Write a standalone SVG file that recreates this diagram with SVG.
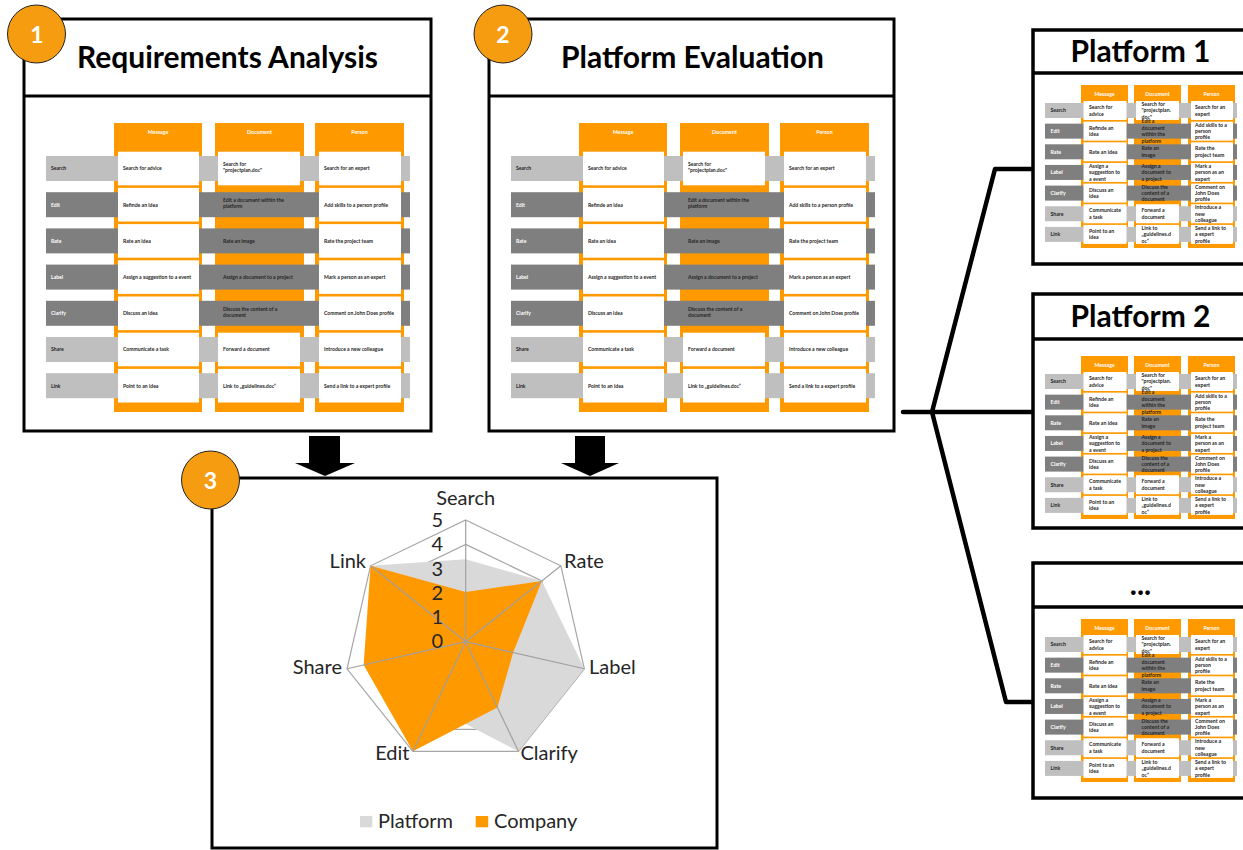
<svg xmlns="http://www.w3.org/2000/svg" xmlns:xlink="http://www.w3.org/1999/xlink" width="1243" height="850" viewBox="0 0 1243 850">
<style>
.box{fill:#fff;stroke:#000;stroke-width:3}
.pbox{fill:#fff;stroke:#000;stroke-width:3.5}
.div{stroke:#000;stroke-width:3}
.pdiv{stroke:#000;stroke-width:3.5}
.title{font-family:Lato,"Liberation Sans",sans-serif;font-weight:bold;font-size:30px;text-anchor:middle;fill:#000}
.badge{fill:#F59C10;stroke:#222;stroke-width:1}
.bnum{font-family:Lato,"Liberation Sans",sans-serif;font-weight:bold;font-size:23px;text-anchor:middle;fill:#fff}
.og{fill:#FF9900}
.lb{fill:#BFBFBF}
.db{fill:#7F7F7F}
.wc{fill:#fff}
.tw{font-family:Lato,"Liberation Sans",sans-serif;font-weight:bold;font-size:5.1px;fill:#262626}
.ts{font-family:Lato,"Liberation Sans",sans-serif;font-weight:bold;font-size:5.2px;fill:#262626}
.wt{fill:#fff}
.hw{font-family:Lato,"Liberation Sans",sans-serif;font-weight:bold;font-size:5.3px;fill:#fff;text-anchor:middle}
.hs{font-family:Lato,"Liberation Sans",sans-serif;font-weight:bold;font-size:5.2px;fill:#fff;text-anchor:middle}
.grid{fill:none;stroke:#A6A6A6;stroke-width:1.2}
.spoke{stroke:#A0A0A0;stroke-width:1.2}
.cl{font-family:Lato,"Liberation Sans",sans-serif;font-size:20px;fill:#262626}
.conn{fill:none;stroke:#000;stroke-width:4.5;stroke-linejoin:round;stroke-linecap:round}
.arrow{fill:#000}
</style>
<defs>
<g id="tblWide">
 <rect class="og" x="114" y="123" width="88" height="289"/>
 <rect class="og" x="215" y="123" width="89" height="289"/>
 <rect class="og" x="315" y="123" width="89" height="289"/>
 <rect class="lb" x="46" y="156" width="364" height="25"/>
 <rect class="db" x="46" y="192.2" width="364" height="25"/>
 <rect class="db" x="46" y="228.4" width="364" height="25"/>
 <rect class="db" x="46" y="264.6" width="364" height="25"/>
 <rect class="db" x="46" y="300.8" width="364" height="25"/>
 <rect class="lb" x="46" y="337" width="364" height="25"/>
 <rect class="lb" x="46" y="373.2" width="364" height="25"/>
 <rect class="wc" x="118" y="151.7" width="81" height="33.6"/>
 <rect class="wc" x="118" y="187.9" width="81" height="33.6"/>
 <rect class="wc" x="118" y="224.1" width="81" height="33.6"/>
 <rect class="wc" x="118" y="260.3" width="81" height="33.6"/>
 <rect class="wc" x="118" y="296.5" width="81" height="33.6"/>
 <rect class="wc" x="118" y="332.7" width="81" height="33.6"/>
 <rect class="wc" x="118" y="368.9" width="81" height="33.6"/>
 <rect class="wc" x="218" y="151.7" width="82" height="33.6"/>
 <rect class="wc" x="218" y="332.7" width="82" height="33.6"/>
 <rect class="wc" x="218" y="368.9" width="82" height="33.6"/>
 <rect class="wc" x="319" y="151.7" width="82" height="33.6"/>
 <rect class="wc" x="319" y="187.9" width="82" height="33.6"/>
 <rect class="wc" x="319" y="224.1" width="82" height="33.6"/>
 <rect class="wc" x="319" y="260.3" width="82" height="33.6"/>
 <rect class="wc" x="319" y="296.5" width="82" height="33.6"/>
 <rect class="wc" x="319" y="332.7" width="82" height="33.6"/>
 <rect class="wc" x="319" y="368.9" width="82" height="33.6"/>
 <text class="hw" x="158" y="134">Message</text>
 <text class="hw" x="259.5" y="134">Document</text>
 <text class="hw" x="359.5" y="134">Person</text>
 <text class="tw" x="51" y="170.3">Search</text>
 <text class="tw wt" x="51" y="206.5">Edit</text>
 <text class="tw wt" x="51" y="242.7">Rate</text>
 <text class="tw wt" x="51" y="278.9">Label</text>
 <text class="tw wt" x="51" y="315.1">Clarify</text>
 <text class="tw" x="51" y="351.3">Share</text>
 <text class="tw" x="51" y="387.5">Link</text>
 <text class="tw" x="123" y="170.3">Search for advice</text>
 <text class="tw" x="123" y="206.5">Refinde an idea</text>
 <text class="tw" x="123" y="242.7">Rate an idea</text>
 <text class="tw" x="123" y="278.9">Assign a suggestion to a event</text>
 <text class="tw" x="123" y="315.1">Discuss an idea</text>
 <text class="tw" x="123" y="351.3">Communicate a task</text>
 <text class="tw" x="123" y="387.5">Point to an idea</text>
 <text class="tw"><tspan x="223" y="166.2">Search for</tspan><tspan x="223" y="172.2">"projectplan.doc"</tspan></text>
 <text class="tw"><tspan x="223" y="202.4">Edit a document within the</tspan><tspan x="223" y="208.4">platform</tspan></text>
 <text class="tw" x="223" y="242.7">Rate an image</text>
 <text class="tw" x="223" y="278.9">Assign a document to a project</text>
 <text class="tw"><tspan x="223" y="311">Discuss the content of a</tspan><tspan x="223" y="317">document</tspan></text>
 <text class="tw" x="223" y="351.3">Forward a document</text>
 <text class="tw" x="223" y="387.5">Link to „guidelines.doc“</text>
 <text class="tw" x="324" y="170.3">Search for an expert</text>
 <text class="tw" x="324" y="206.5">Add skills to a person profile</text>
 <text class="tw" x="324" y="242.7">Rate the project team</text>
 <text class="tw" x="324" y="278.9">Mark a person as an expert</text>
 <text class="tw" x="324" y="315.1">Comment on John Does profile</text>
 <text class="tw" x="324" y="351.3">Introduce a new colleague</text>
 <text class="tw" x="324" y="387.5">Send a link to a expert profile</text>
</g>
<g id="tblSmall">
 <rect class="og" x="1081" y="85" width="47" height="163"/>
 <rect class="og" x="1134" y="85" width="47" height="163"/>
 <rect class="og" x="1188" y="85" width="47" height="163"/>
 <rect class="lb" x="1045" y="103" width="192" height="15"/>
 <rect class="db" x="1045" y="123.65" width="192" height="15"/>
 <rect class="db" x="1045" y="144.3" width="192" height="15"/>
 <rect class="db" x="1045" y="164.95" width="192" height="15"/>
 <rect class="db" x="1045" y="185.6" width="192" height="15"/>
 <rect class="lb" x="1045" y="206.25" width="192" height="15"/>
 <rect class="lb" x="1045" y="226.9" width="192" height="15"/>
 <rect class="wc" x="1083.5" y="101" width="43" height="19"/>
 <rect class="wc" x="1083.5" y="121.65" width="43" height="19"/>
 <rect class="wc" x="1083.5" y="142.3" width="43" height="19"/>
 <rect class="wc" x="1083.5" y="162.95" width="43" height="19"/>
 <rect class="wc" x="1083.5" y="183.6" width="43" height="19"/>
 <rect class="wc" x="1083.5" y="204.25" width="43" height="19"/>
 <rect class="wc" x="1083.5" y="224.9" width="43" height="19"/>
 <rect class="wc" x="1136" y="101" width="43" height="19"/>
 <rect class="wc" x="1136" y="204.25" width="43" height="19"/>
 <rect class="wc" x="1136" y="224.9" width="43" height="19"/>
 <rect class="wc" x="1191" y="101" width="42" height="19"/>
 <rect class="wc" x="1191" y="121.65" width="42" height="19"/>
 <rect class="wc" x="1191" y="142.3" width="42" height="19"/>
 <rect class="wc" x="1191" y="162.95" width="42" height="19"/>
 <rect class="wc" x="1191" y="183.6" width="42" height="19"/>
 <rect class="wc" x="1191" y="204.25" width="42" height="19"/>
 <rect class="wc" x="1191" y="224.9" width="42" height="19"/>
 <text class="hs" x="1104.5" y="96">Message</text>
 <text class="hs" x="1157.5" y="96">Document</text>
 <text class="hs" x="1211.5" y="96">Person</text>
 <text class="ts" x="1050.5" y="112.3">Search</text>
 <text class="ts wt" x="1050.5" y="132.95">Edit</text>
 <text class="ts wt" x="1050.5" y="153.6">Rate</text>
 <text class="ts wt" x="1050.5" y="174.25">Label</text>
 <text class="ts wt" x="1050.5" y="194.9">Clarify</text>
 <text class="ts" x="1050.5" y="215.55">Share</text>
 <text class="ts" x="1050.5" y="236.2">Link</text>
 <text class="ts"><tspan x="1089" y="109.1">Search for</tspan><tspan x="1089" y="115.5">advice</tspan></text>
 <text class="ts"><tspan x="1089" y="129.75">Refinde an</tspan><tspan x="1089" y="136.15">idea</tspan></text>
 <text class="ts" x="1089" y="153.6">Rate an idea</text>
 <text class="ts"><tspan x="1089" y="167.85">Assign a</tspan><tspan x="1089" y="174.25">suggestion to</tspan><tspan x="1089" y="180.65">a event</tspan></text>
 <text class="ts"><tspan x="1089" y="191.7">Discuss an</tspan><tspan x="1089" y="198.1">idea</tspan></text>
 <text class="ts"><tspan x="1089" y="212.35">Communicate</tspan><tspan x="1089" y="218.75">a task</tspan></text>
 <text class="ts"><tspan x="1089" y="233">Point to an</tspan><tspan x="1089" y="239.4">idea</tspan></text>
 <text class="ts"><tspan x="1141.5" y="105.9">Search for</tspan><tspan x="1141.5" y="112.3">"projectplan.</tspan><tspan x="1141.5" y="118.7">doc"</tspan></text>
 <text class="ts"><tspan x="1141.5" y="123.35">Edit a</tspan><tspan x="1141.5" y="129.75">document</tspan><tspan x="1141.5" y="136.15">within the</tspan><tspan x="1141.5" y="142.55">platform</tspan></text>
 <text class="ts"><tspan x="1141.5" y="150.4">Rate an</tspan><tspan x="1141.5" y="156.8">image</tspan></text>
 <text class="ts"><tspan x="1141.5" y="167.85">Assign a</tspan><tspan x="1141.5" y="174.25">document to</tspan><tspan x="1141.5" y="180.65">a project</tspan></text>
 <text class="ts"><tspan x="1141.5" y="188.5">Discuss the</tspan><tspan x="1141.5" y="194.9">content of a</tspan><tspan x="1141.5" y="201.3">document</tspan></text>
 <text class="ts"><tspan x="1141.5" y="212.35">Forward a</tspan><tspan x="1141.5" y="218.75">document</tspan></text>
 <text class="ts"><tspan x="1141.5" y="229.8">Link to</tspan><tspan x="1141.5" y="236.2">„guidelines.d</tspan><tspan x="1141.5" y="242.6">oc“</tspan></text>
 <text class="ts"><tspan x="1195" y="109.1">Search for an</tspan><tspan x="1195" y="115.5">expert</tspan></text>
 <text class="ts"><tspan x="1195" y="126.55">Add skills to a</tspan><tspan x="1195" y="132.95">person</tspan><tspan x="1195" y="139.35">profile</tspan></text>
 <text class="ts"><tspan x="1195" y="150.4">Rate the</tspan><tspan x="1195" y="156.8">project team</tspan></text>
 <text class="ts"><tspan x="1195" y="167.85">Mark a</tspan><tspan x="1195" y="174.25">person as an</tspan><tspan x="1195" y="180.65">expert</tspan></text>
 <text class="ts"><tspan x="1195" y="188.5">Comment on</tspan><tspan x="1195" y="194.9">John Does</tspan><tspan x="1195" y="201.3">profile</tspan></text>
 <text class="ts"><tspan x="1195" y="209.15">Introduce a</tspan><tspan x="1195" y="215.55">new</tspan><tspan x="1195" y="221.95">colleague</tspan></text>
 <text class="ts"><tspan x="1195" y="229.8">Send a link to</tspan><tspan x="1195" y="236.2">a expert</tspan><tspan x="1195" y="242.6">profile</tspan></text>
</g>
</defs>
<rect x="0" y="0" width="1243" height="850" fill="#fff"/>

<g id="connectors">
 <polygon class="arrow" points="309,436 340,436 340,463 355,463 325,476 295,463 309,463"/>
 <polygon class="arrow" points="575,436 605,436 605,463 619,463 590,476 561,463 575,463"/>
 <path class="conn" d="M903,412 H932 M932,412 L995,169 H1033 M932,412 H1033 M932,412 L1006,702 H1033"/>
</g>

<g id="requirements-analysis">
 <rect class="box" x="24" y="19" width="407" height="412"/>
 <line class="div" x1="24" y1="96" x2="431" y2="96"/>
 <text class="title" x="227.5" y="68">Requirements Analysis</text>
 <use xlink:href="#tblWide" href="#tblWide"/>
 <circle class="badge" cx="36.5" cy="34" r="29"/>
 <text class="bnum" x="37" y="43">1</text>
</g>

<g id="platform-evaluation">
 <rect class="box" x="489" y="19" width="405" height="412"/>
 <line class="div" x1="489" y1="96" x2="894" y2="96"/>
 <text class="title" x="692.5" y="68">Platform Evaluation</text>
 <use xlink:href="#tblWide" href="#tblWide" transform="translate(465,0)"/>
 <circle class="badge" cx="503" cy="34" r="29"/>
 <text class="bnum" x="503" y="43">2</text>
</g>

<g id="comparison-chart">
 <rect class="box" x="212" y="478" width="505" height="370"/>
 <polygon class="grid" points="465.7,617.36 484.73,626.52 489.43,647.12 476.26,663.63 455.14,663.63 441.97,647.12 446.67,626.52"/>
 <polygon class="grid" points="465.7,592.02 503.76,611.35 513.16,652.53 486.82,685.56 444.58,685.56 418.24,652.53 427.64,611.35"/>
 <polygon class="grid" points="465.7,568.68 522.79,596.17 536.89,657.95 497.38,707.49 434.02,707.49 394.51,657.95 408.61,596.17"/>
 <polygon class="grid" points="465.7,544.34 541.82,581 560.62,663.36 507.94,729.42 423.46,729.42 370.78,663.36 389.58,581"/>
 <polygon class="grid" points="465.7,520 560.85,565.82 584.35,668.78 518.5,751.35 412.9,751.35 347.05,668.78 370.55,565.82"/>
 <polygon fill="#D9D9D9" points="465.7,559.2 541.82,581 584.35,668.78 518.5,751.35 434.02,707.49 394.51,657.95 370.55,565.82"/>
 <polygon fill="#FF9900" points="465.7,592.02 541.82,581 513.16,652.53 497.38,707.49 412.9,751.35 363.66,664.99 370.55,565.82"/>
 <g class="spoke">
  <line x1="465.7" y1="641.7" x2="465.7" y2="520"/>
  <line x1="465.7" y1="641.7" x2="560.85" y2="565.82"/>
  <line x1="465.7" y1="641.7" x2="584.35" y2="668.78"/>
  <line x1="465.7" y1="641.7" x2="518.5" y2="751.35"/>
  <line x1="465.7" y1="641.7" x2="412.9" y2="751.35"/>
  <line x1="465.7" y1="641.7" x2="347.05" y2="668.78"/>
  <line x1="465.7" y1="641.7" x2="370.55" y2="565.82"/>
 </g>
 <g class="cl" text-anchor="end">
  <text x="443" y="527">5</text>
  <text x="443" y="551">4</text>
  <text x="443" y="576">3</text>
  <text x="443" y="600">2</text>
  <text x="443" y="624">1</text>
  <text x="443" y="648">0</text>
 </g>
 <text class="cl" x="465.7" y="505" text-anchor="middle">Search</text>
 <text class="cl" x="564" y="568">Rate</text>
 <text class="cl" x="589" y="674">Label</text>
 <text class="cl" x="520.5" y="760">Clarify</text>
 <text class="cl" x="409.5" y="760" text-anchor="end">Edit</text>
 <text class="cl" x="342" y="674" text-anchor="end">Share</text>
 <text class="cl" x="366" y="568" text-anchor="end">Link</text>
 <rect x="360" y="816" width="12.3" height="11.3" fill="#D9D9D9"/>
 <text class="cl" x="378" y="828">Platform</text>
 <rect x="475.7" y="816" width="12.5" height="11.3" fill="#FF9900"/>
 <text class="cl" x="494" y="828">Company</text>
 <circle class="badge" cx="210.5" cy="480" r="29"/>
 <text class="bnum" x="210.5" y="489">3</text>
</g>

<g id="platform-1">
 <rect class="pbox" x="1033" y="30" width="230" height="234"/>
 <line class="pdiv" x1="1033" y1="73" x2="1263" y2="73"/>
 <text class="title" x="1140.5" y="62">Platform 1</text>
 <use xlink:href="#tblSmall" href="#tblSmall"/>
</g>

<g id="platform-2">
 <rect class="pbox" x="1033" y="294" width="230" height="234"/>
 <line class="pdiv" x1="1033" y1="339" x2="1263" y2="339"/>
 <text class="title" x="1140.5" y="327">Platform 2</text>
 <use xlink:href="#tblSmall" href="#tblSmall" transform="translate(0,271)"/>
</g>

<g id="platform-more">
 <rect class="pbox" x="1033" y="563" width="230" height="235"/>
 <line class="pdiv" x1="1033" y1="607" x2="1263" y2="607"/>
 <text class="title" x="1140.5" y="595">...</text>
 <use xlink:href="#tblSmall" href="#tblSmall" transform="translate(0,534)"/>
</g>
</svg>
